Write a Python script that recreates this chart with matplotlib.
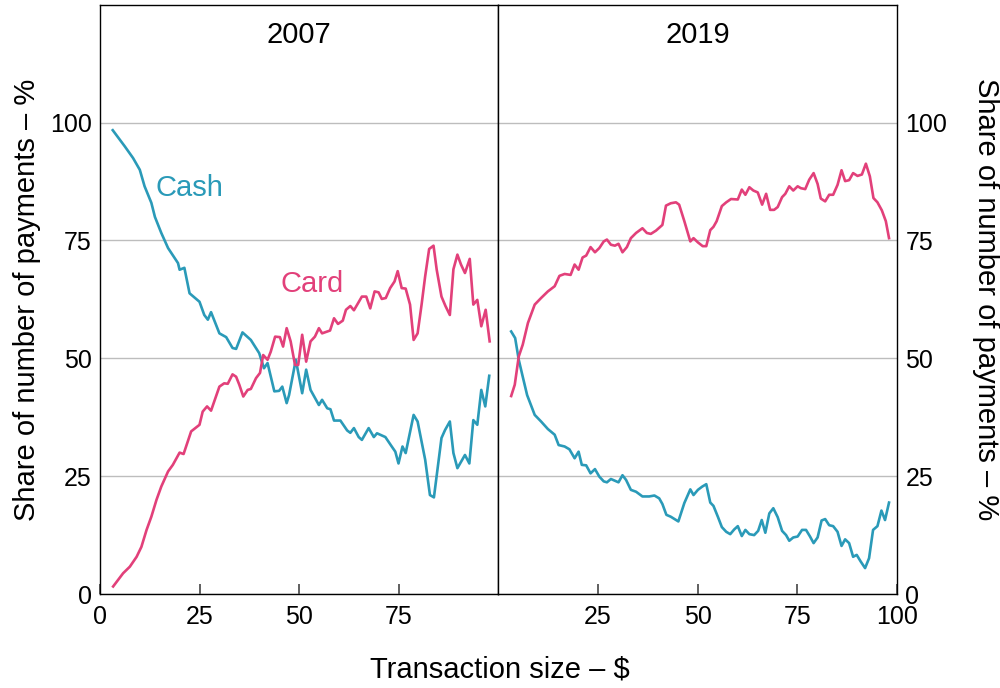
import numpy as np
import matplotlib.pyplot as plt

# Share of number of payments (%) by transaction size ($)
cash_2007_x = [3.2, 6.2, 8.3, 10.0, 11.2, 12.9, 13.8, 15.4, 17.1, 19.6, 20.0, 21.2, 22.5, 25.0,
               26.2, 27.1, 27.9, 30.0, 31.7, 33.3, 34.2, 35.8, 37.9, 40.0, 41.2, 42.1, 43.8,
               45.0, 45.8, 46.9, 47.5, 49.2, 50.8, 51.8, 52.9, 55.0, 55.8, 57.1, 57.9, 58.8,
               60.4, 62.1, 62.9, 63.8, 65.0, 65.8, 67.5, 68.8, 69.6, 71.7, 73.3, 74.2, 75.0,
               76.0, 76.8, 78.8, 79.8, 81.7, 82.9, 83.9, 85.8, 86.7, 87.9, 88.8, 89.8, 91.7,
               92.8, 93.8, 94.8, 95.8, 96.8, 97.8]
cash_2007_y = [98.4, 95.0, 92.5, 90.0, 86.5, 83.0, 80.0, 76.6, 73.4, 70.2, 68.8, 69.2, 63.8, 62.0,
               59.2, 58.2, 59.8, 55.3, 54.5, 52.2, 52.0, 55.5, 53.9, 51.1, 47.9, 49.0, 43.0,
               43.1, 44.0, 40.5, 42.2, 49.7, 42.6, 47.6, 43.3, 40.1, 41.2, 39.4, 39.2, 36.8,
               36.8, 34.7, 34.2, 35.2, 33.3, 32.7, 35.2, 33.3, 34.1, 33.3, 31.3, 30.2, 27.7,
               31.3, 29.9, 38.0, 36.6, 28.5, 21.0, 20.5, 33.1, 34.8, 36.6, 29.9, 26.7, 29.5,
               27.7, 36.9, 35.9, 43.3, 39.8, 46.3]

card_2007_x = [3.3, 5.8, 7.5, 9.2, 10.4, 11.7, 12.9, 14.2, 15.4, 17.1, 18.3, 20.0, 21.0, 22.9,
               25.0, 25.8, 26.9, 27.9, 30.0, 31.2, 32.1, 33.3, 34.2, 35.0, 36.0, 37.1, 37.9,
               39.2, 40.2, 41.0, 42.1, 42.9, 44.0, 45.2, 46.0, 46.9, 47.9, 49.0, 49.8, 50.8,
               51.8, 52.9, 54.0, 55.0, 55.8, 57.8, 58.8, 59.8, 61.0, 61.8, 62.9, 63.8, 65.8,
               66.9, 67.9, 69.0, 70.0, 70.8, 71.8, 72.9, 74.0, 74.8, 75.8, 76.8, 77.9, 78.8,
               79.8, 80.8, 81.7, 82.7, 83.8, 84.6, 85.8, 86.8, 87.9, 88.8, 89.8, 90.7, 91.7,
               92.9, 93.8, 94.8, 95.8, 96.9, 97.9]
card_2007_y = [1.6, 4.4, 5.8, 7.9, 10.0, 13.6, 16.4, 20.0, 22.8, 26.0, 27.4, 30.0, 29.7, 34.5,
               35.9, 38.7, 39.8, 38.9, 44.0, 44.7, 44.6, 46.6, 46.1, 44.4, 41.9, 43.3, 43.5,
               45.8, 46.9, 50.7, 49.7, 51.4, 54.6, 54.5, 52.5, 56.4, 53.6, 48.6, 48.6, 55.0,
               49.3, 53.6, 54.6, 56.4, 55.3, 55.9, 58.5, 57.3, 58.0, 60.3, 61.1, 60.2, 63.1,
               63.1, 60.6, 64.2, 64.0, 62.6, 62.8, 64.9, 66.3, 68.5, 64.9, 64.8, 61.4, 53.9,
               55.3, 61.4, 67.4, 73.2, 73.9, 68.8, 63.1, 61.1, 59.2, 68.9, 72.0, 69.9, 68.1,
               71.1, 61.4, 62.4, 56.8, 60.3, 53.6]

cash_2019_x = [3.3, 4.3, 5.2, 6.2, 7.3, 9.2, 10.8, 12.5, 14.2, 15.2, 16.7, 17.9, 19.2, 20.2,
               21.0, 22.1, 23.2, 24.3, 25.4, 26.5, 27.3, 28.3, 30.2, 31.2, 32.1, 33.3, 34.6,
               36.2, 37.9, 39.2, 40.4, 41.2, 42.2, 43.3, 45.2, 46.7, 48.2, 49.0, 50.1, 51.2,
               52.2, 53.2, 54.0, 55.1, 56.1, 57.2, 58.2, 59.2, 60.1, 61.1, 62.0, 63.0, 64.2,
               65.2, 66.1, 67.0, 68.0, 69.0, 70.1, 71.2, 72.2, 73.0, 74.0, 75.1, 76.2, 77.2,
               78.2, 79.1, 80.1, 81.1, 82.0, 83.0, 84.0, 85.1, 86.1, 87.0, 88.0, 89.0, 89.9,
               90.9, 92.0, 93.0, 94.0, 95.1, 96.1, 97.0, 98.0]
cash_2019_y = [55.7, 54.3, 49.7, 46.1, 42.2, 38.0, 36.6, 35.0, 33.8, 31.6, 31.3, 30.7, 28.8, 30.2,
               27.4, 27.3, 25.6, 26.5, 24.9, 23.9, 23.7, 24.4, 23.7, 25.2, 24.2, 22.1, 21.7,
               20.7, 20.7, 20.9, 20.3, 19.1, 16.8, 16.4, 15.4, 19.3, 22.2, 21.0, 22.1, 22.8,
               23.3, 19.4, 18.7, 16.4, 14.2, 13.2, 12.7, 13.7, 14.4, 12.3, 13.6, 12.7, 12.5,
               13.4, 15.7, 13.0, 17.1, 18.2, 16.3, 13.4, 12.5, 11.3, 12.0, 12.2, 13.6, 13.6,
               12.2, 10.8, 12.0, 15.6, 15.9, 14.6, 14.4, 13.2, 10.2, 11.6, 10.8, 7.9, 8.3,
               6.9, 5.5, 7.6, 13.6, 14.4, 17.7, 15.7, 19.4]

card_2019_x = [3.3, 4.2, 5.2, 6.2, 7.5, 9.2, 10.8, 12.5, 14.2, 15.4, 16.7, 18.2, 19.2, 20.2,
               21.2, 22.1, 23.2, 24.3, 25.4, 26.5, 27.3, 28.3, 29.3, 30.2, 31.2, 32.3, 33.3,
               34.6, 36.2, 37.3, 38.3, 39.6, 41.2, 42.1, 43.3, 44.6, 45.4, 46.7, 48.2, 49.0,
               50.1, 51.3, 52.2, 53.2, 54.0, 54.8, 56.1, 57.2, 58.4, 60.1, 61.1, 62.0, 63.0,
               64.0, 65.1, 66.2, 67.2, 68.2, 69.2, 70.1, 71.2, 72.0, 73.0, 74.0, 75.1, 75.9,
               77.0, 78.0, 79.1, 80.1, 80.9, 82.0, 83.0, 84.0, 85.1, 86.1, 87.0, 88.0, 89.0,
               90.1, 91.2, 92.2, 93.2, 94.1, 95.1, 96.2, 97.2, 98.0]
card_2019_y = [42.0, 44.4, 50.4, 52.9, 57.5, 61.4, 62.8, 64.2, 65.3, 67.5, 67.9, 67.7, 69.9, 68.8,
               71.4, 71.8, 73.6, 72.5, 73.4, 74.8, 75.2, 74.1, 73.9, 74.3, 72.5, 73.6, 75.5,
               76.6, 77.6, 76.6, 76.4, 77.1, 78.3, 82.4, 82.9, 83.1, 82.6, 79.1, 74.8, 75.5,
               74.6, 73.8, 73.8, 77.2, 77.9, 79.1, 82.3, 83.1, 83.8, 83.7, 85.8, 84.7, 86.3,
               85.6, 85.2, 82.6, 84.9, 81.5, 81.5, 82.1, 84.2, 84.9, 86.5, 85.6, 86.5, 86.1,
               85.9, 87.9, 89.3, 87.0, 83.9, 83.3, 84.7, 84.7, 86.8, 89.9, 87.6, 87.8, 89.3,
               88.7, 89.0, 91.3, 88.6, 84.0, 83.1, 81.4, 79.1, 75.5]

panel_titles = ["2007", "2019"]
y_ticks = [0, 25, 50, 75, 100]

CASH = "#2A9AB8"
CARD = "#E2407A"

plt.rcParams['font.family'] = ['Liberation Sans', 'DejaVu Sans']
plt.rcParams['font.size'] = 18
LABEL_SIZE = 21

fig = plt.figure(figsize=(10, 6.88), dpi=100)
ax1 = fig.add_axes([0.100, 0.1366, 0.398, 0.8564])
ax2 = fig.add_axes([0.498, 0.1366, 0.399, 0.8564])

panels = [
    (ax1, cash_2007_x, cash_2007_y, card_2007_x, card_2007_y, [0, 25, 50, 75]),
    (ax2, cash_2019_x, cash_2019_y, card_2019_x, card_2019_y, [25, 50, 75, 100]),
]

for (ax, cx, cy, kx, ky, xt), title in zip(panels, panel_titles):
    ax.plot(cx, cy, color=CASH, lw=1.9, zorder=3)
    ax.plot(kx, ky, color=CARD, lw=1.9, zorder=3)
    ax.set_xlim(0, 100)
    ax.set_ylim(0, 125)
    ax.set_xticks(xt)
    ax.set_yticks(y_ticks)
    ax.grid(True, axis='y', color='#BDBDBD', lw=1.0)
    ax.set_axisbelow(True)
    ax.tick_params(axis='x', direction='in', length=7, width=1.2, color='#444444', pad=8)
    ax.tick_params(axis='y', length=0, pad=6)
    for s in ax.spines.values():
        s.set_linewidth(1.0)
        s.set_color('black')
    ax.text(0.5, 0.949, title, transform=ax.transAxes, ha='center', va='center',
            fontsize=LABEL_SIZE)

ax1.set_ylabel('Share of number of payments – %', fontsize=LABEL_SIZE, labelpad=6)
ax2.yaxis.tick_right()
ax2.yaxis.set_label_position('right')
ax2.set_ylabel('Share of number of payments – %', fontsize=LABEL_SIZE,
               rotation=270, labelpad=38)

ax1.text(22.5, 86.2, 'Cash', color=CASH, ha='center', va='center', fontsize=LABEL_SIZE)
ax1.text(53.3, 65.8, 'Card', color=CARD, ha='center', va='center', fontsize=LABEL_SIZE)

fig.text(0.5, 0.027, 'Transaction size – $', ha='center', va='center', fontsize=LABEL_SIZE)

fig.savefig('out.png', dpi=100)
